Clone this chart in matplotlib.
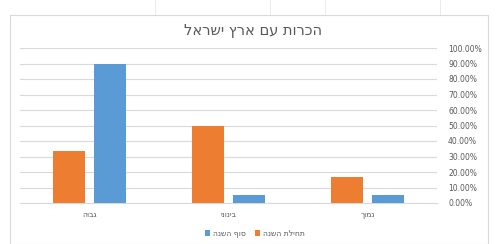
import numpy as np
import matplotlib.pyplot as plt
from matplotlib.patches import Rectangle


def rtl(s):
    # matplotlib has no bidi support, so flip Hebrew by hand
    return s[::-1]


title = "הכרות עם ארץ ישראל"
categories = ["גבוה", "בינוני", "נמוך"]
series_start = "תחילת השנה"
series_end = "סוף השנה"
start_values = [0.3333, 0.50, 0.1667]
end_values = [0.90, 0.05, 0.05]
y_ticks = [0.0, 0.1, 0.2, 0.3, 0.4, 0.5, 0.6, 0.7, 0.8, 0.9, 1.0]

ORANGE = "#ED7D31"
BLUE = "#5B9BD5"
GRID = "#D9D9D9"
TEXT = "#595959"


def main():
    fig = plt.figure(figsize=(4.98, 2.44), dpi=100)
    fig.patch.set_facecolor("white")

    # sheet cell lines peeking above the chart
    for xp in [155, 270, 325, 440]:
        fig.add_artist(plt.Line2D([xp / 498, xp / 498], [1 - 14 / 244, 1.0],
                                  transform=fig.transFigure, color="#E6E6E6",
                                  linewidth=0.6))

    # chart frame
    fig.add_artist(Rectangle((10 / 498, 0.0), 478 / 498, 229 / 244,
                             transform=fig.transFigure, fill=False,
                             edgecolor="#D9D9D9", linewidth=0.8))

    ax = fig.add_axes([20 / 498, 41 / 244, 417 / 498, 155 / 244])
    x = np.arange(len(categories))
    w = 0.23
    gap = 0.06
    ax.bar(x - (w + gap) / 2, start_values, w, color=ORANGE, zorder=3,
           label=rtl(series_start))
    ax.bar(x + (w + gap) / 2, end_values, w, color=BLUE, zorder=3,
           label=rtl(series_end))

    ax.set_xlim(-0.5, len(categories) - 0.5)
    ax.set_ylim(0, 1.0)
    ax.set_yticks(y_ticks)
    ax.set_yticklabels([f"{v * 100:.2f}%" for v in y_ticks])
    ax.yaxis.tick_right()
    ax.grid(axis="y", color=GRID, linewidth=0.8, zorder=0)
    ax.set_xticks(x)
    ax.set_xticklabels([rtl(c) for c in categories])
    ax.tick_params(axis="y", length=0, labelsize=5.5, colors=TEXT, pad=8)
    ax.tick_params(axis="x", length=0, labelsize=5.5, colors=TEXT, pad=5)
    for s in ["top", "left", "right"]:
        ax.spines[s].set_visible(False)
    ax.spines["bottom"].set_color(GRID)

    fig.text(253 / 498, 1 - 30 / 244, rtl(title), ha="center", va="center",
             fontsize=10.5, color=TEXT)

    h, l = ax.get_legend_handles_labels()
    fig.legend(h[::-1], l[::-1], loc="center", bbox_to_anchor=(255 / 498, 1 - 233 / 244),
               ncol=2, frameon=False, fontsize=5.5, handlelength=0.7,
               handleheight=0.7, handletextpad=0.4, columnspacing=1.2,
               labelcolor=TEXT)

    fig.savefig("out.png", dpi=100)


if __name__ == "__main__":
    main()
